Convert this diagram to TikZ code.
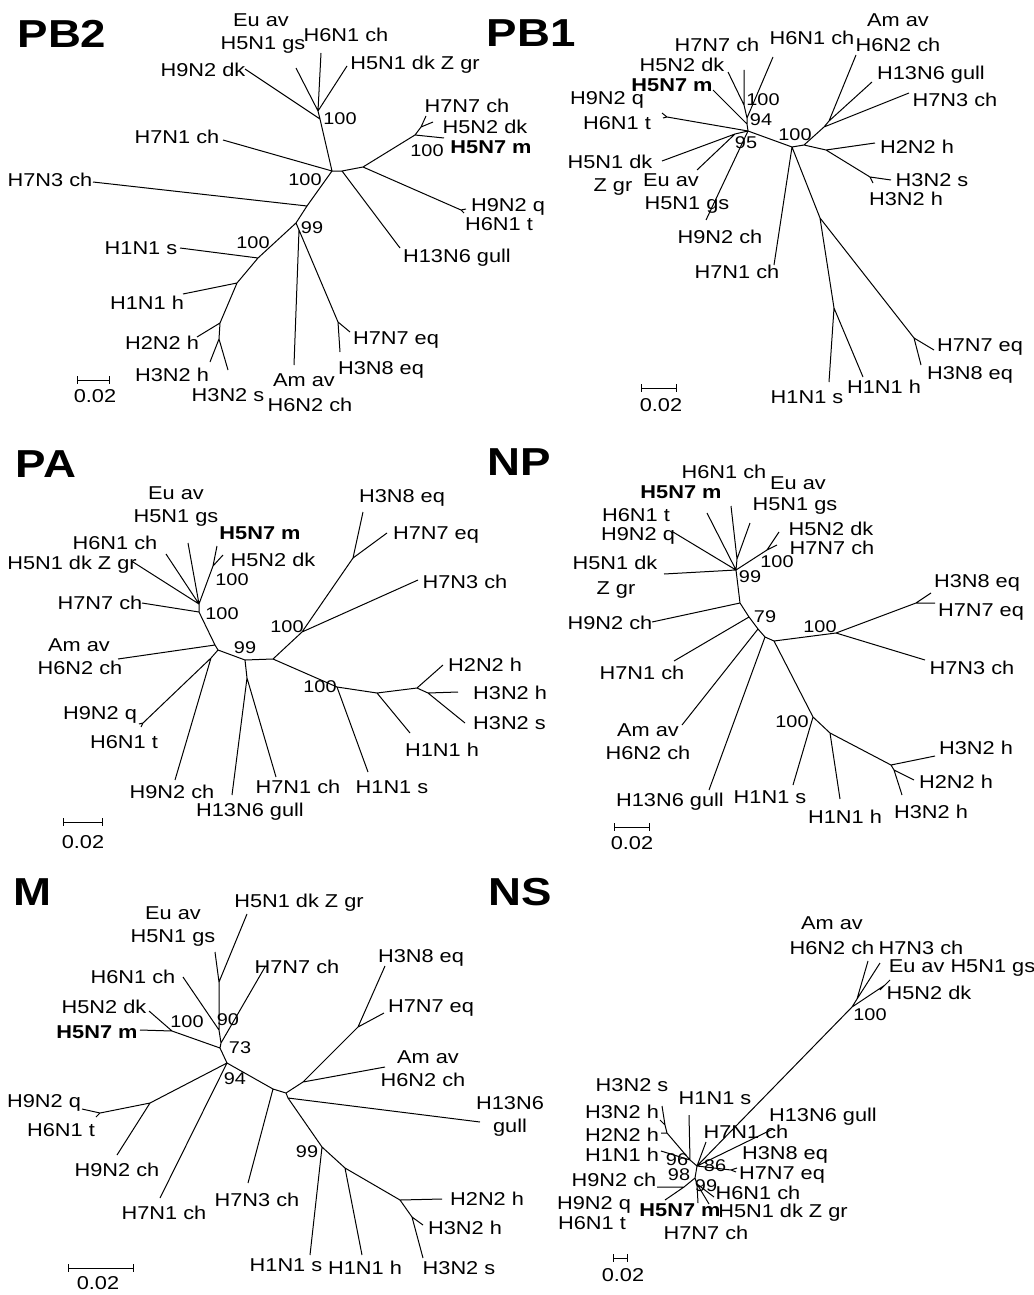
\documentclass[tikz,border=0pt]{standalone}
\usepackage{fontspec}
\setmainfont{Liberation Sans}[FakeStretch=1.17]
\usetikzlibrary{positioning}
\tikzset{
  br/.style={line width=1pt},
  lbl/.style={font=\fontsize{18.6}{22}\selectfont,inner sep=0pt},
  lblb/.style={font=\fontsize{18.6}{22}\selectfont\bfseries,inner sep=0pt},
  bsv/.style={font=\fontsize{17}{18}\selectfont,inner sep=0pt},
  ttl/.style={font=\fontsize{39}{40}\selectfont\bfseries,inner sep=0pt},
  sbar/.style={|-|,line width=1pt}
}
\begin{document}
\begin{tikzpicture}[x=1pt,y=-1pt]
\useasboundingbox (0,0) rectangle (1033,1295);

\path (318,111) coordinate (B2s1) (320,119) coordinate (B2n1) (332,171) coordinate (B2a)
  (342,171) coordinate (B2a2) (363,167) coordinate (B2b) (415,135) coordinate (B2c)
  (421,127) coordinate (B2c1) (461,210) coordinate (B2q) (307,206) coordinate (B2d)
  (296,223) coordinate (B2e) (299,230) coordinate (B2e2) (338,322) coordinate (B2f2)
  (258,258) coordinate (B2f) (237,283) coordinate (B2g) (220,323) coordinate (B2h)
  (219,339) coordinate (B2i)
  (245,69) coordinate (B2t1) (296,68) coordinate (B2t2) (321,53) coordinate (B2t3)
  (347,66) coordinate (B2t4) (223,140) coordinate (B2t5) (426,116) coordinate (B2t6)
  (433,122) coordinate (B2t7) (444,138) coordinate (B2t8) (466,209) coordinate (B2t9)
  (464,213) coordinate (B2t10) (400,248) coordinate (B2t11) (93,182) coordinate (B2t12)
  (294,365) coordinate (B2t13) (350,332) coordinate (B2t14) (340,352) coordinate (B2t15)
  (180,248) coordinate (B2t16) (183,294) coordinate (B2t17) (197,337) coordinate (B2t18)
  (210,362) coordinate (B2t19) (228,370) coordinate (B2t20);
\draw[br] (B2t1) -- (B2n1) -- (B2a) (B2s1) -- (B2n1) (B2t2) -- (B2s1) (B2t3) -- (B2s1) (B2t4) -- (B2s1)
  (B2t5) -- (B2a) -- (B2a2) -- (B2b) -- (B2c) -- (B2c1) -- (B2t6) (B2c1) -- (B2t7) (B2c) -- (B2t8)
  (B2b) -- (B2q) -- (B2t9) (B2q) -- (B2t10) (B2a2) -- (B2t11)
  (B2a) -- (B2d) -- (B2t12) (B2d) -- (B2e) -- (B2e2) -- (B2t13) (B2e2) -- (B2f2) -- (B2t14) (B2f2) -- (B2t15)
  (B2e) -- (B2f) -- (B2t16) (B2f) -- (B2g) -- (B2t17) (B2g) -- (B2h) -- (B2t18) (B2h) -- (B2i) -- (B2t19) (B2i) -- (B2t20);
\node[ttl] (B2ttl) at (62,34) {PB2};
\node[lbl] (B2l1) at (203,70) {H9N2 dk};
\node[lbl] (B2l2) at (261,20) {Eu av};
\node[lbl] (B2l2b) at (263,45) {H5N1 gs};
\node[lbl] (B2l3) at (346,35) {H6N1 ch};
\node[lbl] (B2l4) at (415,65) {H5N1 dk Z gr};
\node[lbl] (B2l5) at (177,137) {H7N1 ch};
\node[lbl] (B2l6) at (467,106) {H7N7 ch};
\node[lbl] (B2l7) at (485,127) {H5N2 dk};
\node[lblb] (B2l8) at (491,147) {H5N7 m};
\node[lbl] (B2l9) at (508,207) {H9N2 q};
\node[lbl] (B2l10) at (499,224) {H6N1 t};
\node[lbl] (B2l11) at (457,258) {H13N6 gull};
\node[lbl] (B2l12) at (50,180) {H7N3 ch};
\node[lbl] (B2l13) at (304,380) {Am av};
\node[lbl] (B2l13b) at (310,405) {H6N2 ch};
\node[lbl] (B2l14) at (396,340) {H7N7 eq};
\node[lbl] (B2l15) at (381,370) {H3N8 eq};
\node[lbl] (B2l16) at (141,248) {H1N1 s};
\node[lbl] (B2l17) at (147,303) {H1N1 h};
\node[lbl] (B2l18) at (162,343) {H2N2 h};
\node[lbl] (B2l19) at (172,375) {H3N2 h};
\node[lbl] (B2l20) at (228,395) {H3N2 s};
\node[bsv] (B2b1) at (340,119) {100};
\node[bsv] (B2b2) at (427,151) {100};
\node[bsv] (B2b3) at (305,180) {100};
\node[bsv] (B2b4) at (312,228) {99};
\node[bsv] (B2b5) at (253,243) {100};
\coordinate (B2sa) at (77,380);
\coordinate (B2sb) at (110,380);
\draw[sbar] (B2sa) -- (B2sb);
\node[lbl] (B2sl) at (95,396) {0.02};

\path (744,105) coordinate (B1a) (747,118) coordinate (B1b) (747,124) coordinate (B1m)
  (748,131) coordinate (B1c) (667,117) coordinate (B1q) (735,134) coordinate (B1d)
  (792,147) coordinate (B1e) (804,145) coordinate (B1e2) (824,127) coordinate (B1f)
  (829,121) coordinate (B1f1) (826,150) coordinate (B1g) (870,177) coordinate (B1h)
  (820,218) coordinate (B1i) (834,308) coordinate (B1j) (914,338) coordinate (B1k)
  (728,72) coordinate (B1t1) (744,70) coordinate (B1t2) (773,57) coordinate (B1t3)
  (713,90) coordinate (B1t4) (662,113) coordinate (B1t5) (663,118) coordinate (B1t6)
  (662,161) coordinate (B1t7) (697,170) coordinate (B1t8) (706,220) coordinate (B1t9)
  (856,55) coordinate (B1t10) (872,82) coordinate (B1t11) (909,93) coordinate (B1t12)
  (875,143) coordinate (B1t13) (891,180) coordinate (B1t14) (873,183) coordinate (B1t15)
  (774,265) coordinate (B1t16) (829,382) coordinate (B1t17) (863,377) coordinate (B1t18)
  (934,350) coordinate (B1t19) (921,365) coordinate (B1t20);
\draw[br] (B1t1) -- (B1a) (B1t2) -- (B1a) -- (B1b) -- (B1m) -- (B1c) (B1t3) -- (B1b) (B1t4) -- (B1m)
  (B1t5) -- (B1q) (B1t6) -- (B1q) -- (B1c) (B1t7) -- (B1d) (B1t8) -- (B1d) -- (B1c) (B1t9) -- (B1c)
  (B1c) -- (B1e) -- (B1e2) -- (B1f) -- (B1f1) -- (B1t10) (B1f1) -- (B1t11) (B1f) -- (B1t12)
  (B1e2) -- (B1g) -- (B1t13) (B1g) -- (B1h) -- (B1t14) (B1h) -- (B1t15)
  (B1e) -- (B1t16) (B1e) -- (B1i) -- (B1j) -- (B1t17) (B1j) -- (B1t18) (B1i) -- (B1k) -- (B1t19) (B1k) -- (B1t20);
\node[ttl] (B1ttl) at (531,33) {PB1};
\node[lbl] (B1l1) at (682,65) {H5N2 dk};
\node[lbl] (B1l2) at (717,45) {H7N7 ch};
\node[lbl] (B1l3) at (812,38) {H6N1 ch};
\node[lblb] (B1l4) at (672,85) {H5N7 m};
\node[lbl] (B1l5) at (607,100) {H9N2 q};
\node[lbl] (B1l6) at (617,123) {H6N1 t};
\node[lbl] (B1l7) at (610,162) {H5N1 dk};
\node[lbl] (B1l7b) at (613,187) {Z gr};
\node[lbl] (B1l8) at (671,180) {Eu av};
\node[lbl] (B1l8b) at (687,205) {H5N1 gs};
\node[lbl] (B1l9) at (720,237) {H9N2 ch};
\node[lbl] (B1l10) at (898,20) {Am av};
\node[lbl] (B1l10b) at (898,45) {H6N2 ch};
\node[lbl] (B1l11) at (931,75) {H13N6 gull};
\node[lbl] (B1l12) at (955,100) {H7N3 ch};
\node[lbl] (B1l13) at (917,147) {H2N2 h};
\node[lbl] (B1l14) at (932,180) {H3N2 s};
\node[lbl] (B1l15) at (906,199) {H3N2 h};
\node[lbl] (B1l16) at (737,272) {H7N1 ch};
\node[lbl] (B1l17) at (807,397) {H1N1 s};
\node[lbl] (B1l18) at (884,387) {H1N1 h};
\node[lbl] (B1l19) at (980,347) {H7N7 eq};
\node[lbl] (B1l20) at (970,375) {H3N8 eq};
\node[bsv] (B1b1) at (763,100) {100};
\node[bsv] (B1b2) at (761,120) {94};
\node[bsv] (B1b3) at (746,143) {95};
\node[bsv] (B1b4) at (795,135) {100};
\coordinate (B1sa) at (641,388);
\coordinate (B1sb) at (677,388);
\draw[sbar] (B1sa) -- (B1sb);
\node[lbl] (B1sl) at (661,405) {0.02};

\path (199,604) coordinate (PAp1) (213,566) coordinate (PAp2) (199,612) coordinate (PAp3)
  (215,645) coordinate (PAp4a) (218,650) coordinate (PAp4) (211,658) coordinate (PAq1)
  (143,723) coordinate (PAqf) (245,660) coordinate (PAp5) (273,659) coordinate (PAp6)
  (247,678) coordinate (PAp7) (302,632) coordinate (PAp8) (353,558) coordinate (PAp9)
  (337,687) coordinate (PAp10) (377,693) coordinate (PAp11) (417,688) coordinate (PAp12)
  (428,693) coordinate (PAp13)
  (133,562) coordinate (PAt1) (166,554) coordinate (PAt2) (188,543) coordinate (PAt3)
  (217,546) coordinate (PAt4) (223,555) coordinate (PAt5) (142,603) coordinate (PAt6)
  (118,659) coordinate (PAt7) (139,724) coordinate (PAt8) (141,727) coordinate (PAt9)
  (175,780) coordinate (PAt10) (232,795) coordinate (PAt11) (276,777) coordinate (PAt12)
  (418,580) coordinate (PAt13) (363,512) coordinate (PAt14) (387,533) coordinate (PAt15)
  (368,772) coordinate (PAt16) (410,733) coordinate (PAt17) (443,665) coordinate (PAt18)
  (458,692) coordinate (PAt19) (465,723) coordinate (PAt20);
\draw[br] (PAt1) -- (PAp1) (PAt2) -- (PAp1) (PAt3) -- (PAp1) -- (PAp2) -- (PAt4) (PAp2) -- (PAt5)
  (PAp1) -- (PAp3) -- (PAt6) (PAp3) -- (PAp4a) -- (PAp4) (PAt7) -- (PAp4a)
  (PAp4) -- (PAq1) -- (PAqf) -- (PAt8) (PAqf) -- (PAt9) (PAq1) -- (PAt10)
  (PAp4) -- (PAp5) -- (PAp6) (PAp5) -- (PAp7) -- (PAt11) (PAp7) -- (PAt12)
  (PAp6) -- (PAp8) -- (PAt13) (PAp8) -- (PAp9) -- (PAt14) (PAp9) -- (PAt15)
  (PAp6) -- (PAp10) -- (PAt16) (PAp10) -- (PAp11) -- (PAt17) (PAp11) -- (PAp12) -- (PAt18)
  (PAp12) -- (PAp13) -- (PAt19) (PAp13) -- (PAt20);
\node[ttl] (PAttl) at (46,464) {PA};
\node[lbl] (PAl1) at (72,565) {H5N1 dk Z gr};
\node[lbl] (PAl2) at (115,543) {H6N1 ch};
\node[lbl] (PAl3) at (176,493) {Eu av};
\node[lbl] (PAl3b) at (176,518) {H5N1 gs};
\node[lblb] (PAl4) at (260,533) {H5N7 m};
\node[lbl] (PAl5) at (273,560) {H5N2 dk};
\node[lbl] (PAl6) at (100,603) {H7N7 ch};
\node[lbl] (PAl7) at (79,645) {Am av};
\node[lbl] (PAl7b) at (80,668) {H6N2 ch};
\node[lbl] (PAl8) at (100,715) {H9N2 q};
\node[lbl] (PAl9) at (124,742) {H6N1 t};
\node[lbl] (PAl10) at (172,792) {H9N2 ch};
\node[lbl] (PAl11) at (250,812) {H13N6 gull};
\node[lbl] (PAl12) at (298,787) {H7N1 ch};
\node[lbl] (PAl13) at (465,582) {H7N3 ch};
\node[lbl] (PAl14) at (402,498) {H3N8 eq};
\node[lbl] (PAl15) at (436,535) {H7N7 eq};
\node[lbl] (PAl16) at (392,787) {H1N1 s};
\node[lbl] (PAl17) at (442,750) {H1N1 h};
\node[lbl,anchor=west] (PAl18) at (448,665) {H2N2 h};
\node[lbl,anchor=west] (PAl19) at (473,693) {H3N2 h};
\node[lbl,anchor=west] (PAl20) at (473,723) {H3N2 s};
\node[bsv] (PAb1) at (232,580) {100};
\node[bsv] (PAb2) at (222,614) {100};
\node[bsv] (PAb3) at (245,648) {99};
\node[bsv] (PAb4) at (287,627) {100};
\node[bsv] (PAb5) at (320,687) {100};
\coordinate (PAsa) at (63,822);
\coordinate (PAsb) at (103,822);
\draw[sbar] (PAsa) -- (PAsb);
\node[lbl] (PAsl) at (83,842) {0.02};

\path (736,570) coordinate (NPt) (737,559) coordinate (NPs) (767,550) coordinate (NPu1)
  (740,603) coordinate (NPv1) (749,617) coordinate (NPv2) (758,629) coordinate (NPv3)
  (765,637) coordinate (NPv4) (774,641) coordinate (NPu) (836,633) coordinate (NPv)
  (916,603) coordinate (NPw) (813,717) coordinate (NPx1) (830,733) coordinate (NPx2)
  (891,765) coordinate (NPx3) (894,770) coordinate (NPx4)
  (673,532) coordinate (NPt1) (707,513) coordinate (NPt2) (731,506) coordinate (NPt3)
  (750,523) coordinate (NPt4) (779,532) coordinate (NPt5) (777,545) coordinate (NPt6)
  (664,574) coordinate (NPt7) (652,622) coordinate (NPt8) (674,661) coordinate (NPt9)
  (682,725) coordinate (NPt10) (709,790) coordinate (NPt11) (931,593) coordinate (NPt12)
  (935,603) coordinate (NPt13) (925,660) coordinate (NPt14) (793,785) coordinate (NPt15)
  (840,799) coordinate (NPt16) (935,756) coordinate (NPt17) (914,780) coordinate (NPt18)
  (902,795) coordinate (NPt19);
\draw[br] (NPt1) -- (NPt) (NPt2) -- (NPt) (NPt3) -- (NPs) (NPt4) -- (NPs) -- (NPt)
  (NPt5) -- (NPu1) (NPt6) -- (NPu1) -- (NPt) (NPt7) -- (NPt)
  (NPt) -- (NPv1) -- (NPv2) -- (NPv3) -- (NPv4) -- (NPu)
  (NPt8) -- (NPv1) (NPt9) -- (NPv2) (NPt10) -- (NPv3) (NPt11) -- (NPv4)
  (NPu) -- (NPv) -- (NPw) -- (NPt12) (NPw) -- (NPt13) (NPv) -- (NPt14)
  (NPu) -- (NPx1) -- (NPt15) (NPx1) -- (NPx2) -- (NPt16) (NPx2) -- (NPx3) -- (NPt17)
  (NPx3) -- (NPx4) -- (NPt18) (NPx4) -- (NPt19);
\node[ttl] (NPttl) at (519,462) {NP};
\node[lbl] (NPl1) at (724,472) {H6N1 ch};
\node[lbl] (NPl2) at (798,483) {Eu av};
\node[lbl] (NPl2b) at (795,506) {H5N1 gs};
\node[lblb] (NPl3) at (681,492) {H5N7 m};
\node[lbl] (NPl4) at (636,515) {H6N1 t};
\node[lbl] (NPl5) at (638,536) {H9N2 q};
\node[lbl] (NPl6) at (831,529) {H5N2 dk};
\node[lbl] (NPl7) at (832,548) {H7N7 ch};
\node[lbl] (NPl8) at (615,563) {H5N1 dk};
\node[lbl] (NPl8b) at (616,590) {Z gr};
\node[lbl] (NPl9) at (610,623) {H9N2 ch};
\node[lbl] (NPl10) at (642,673) {H7N1 ch};
\node[lbl] (NPl11) at (648,730) {Am av};
\node[lbl] (NPl11b) at (648,753) {H6N2 ch};
\node[lbl] (NPl12) at (670,802) {H13N6 gull};
\node[lbl] (NPl13) at (977,583) {H3N8 eq};
\node[lbl] (NPl14) at (981,612) {H7N7 eq};
\node[lbl] (NPl15) at (972,668) {H7N3 ch};
\node[lbl] (NPl16) at (770,797) {H1N1 s};
\node[lbl] (NPl17) at (845,817) {H1N1 h};
\node[lbl] (NPl18) at (976,748) {H3N2 h};
\node[lbl] (NPl19) at (956,782) {H2N2 h};
\node[lbl] (NPl20) at (931,812) {H3N2 h};
\node[bsv] (NPb1) at (750,577) {99};
\node[bsv] (NPb2) at (777,562) {100};
\node[bsv] (NPb3) at (765,617) {79};
\node[bsv] (NPb4) at (820,627) {100};
\node[bsv] (NPb5) at (792,722) {100};
\coordinate (NPsa) at (614,827);
\coordinate (NPsb) at (650,827);
\draw[sbar] (NPsa) -- (NPsb);
\node[lbl] (NPsl) at (632,843) {0.02};

\path (219,982) coordinate (Mm3) (219,1030) coordinate (Mm2) (221,1043) coordinate (Mm1b)
  (220,1048) coordinate (Mm1) (172,1031) coordinate (Mk) (227,1063) coordinate (Mm4)
  (150,1103) coordinate (Mm5) (100,1113) coordinate (Mm6) (273,1089) coordinate (Mm7)
  (286,1093) coordinate (Mm8) (303,1082) coordinate (Mm9) (358,1027) coordinate (Mm10)
  (288,1098) coordinate (Mm8b) (322,1147) coordinate (Mm11) (345,1168) coordinate (Mm12)
  (400,1200) coordinate (Mm13) (412,1217) coordinate (Mm14)
  (215,952) coordinate (Mt1) (247,914) coordinate (Mt2) (183,977) coordinate (Mt3)
  (265,967) coordinate (Mt4) (149,1011) coordinate (Mt5) (140,1030) coordinate (Mt6)
  (117,1155) coordinate (Mt7) (82,1109) coordinate (Mt8) (96,1117) coordinate (Mt9)
  (160,1198) coordinate (Mt10) (248,1183) coordinate (Mt11) (385,1067) coordinate (Mt12)
  (385,966) coordinate (Mt13) (384,1013) coordinate (Mt14) (480,1122) coordinate (Mt15)
  (310,1255) coordinate (Mt16) (362,1255) coordinate (Mt17) (442,1199) coordinate (Mt18)
  (423,1225) coordinate (Mt19) (423,1258) coordinate (Mt20);
\draw[br] (Mt1) -- (Mm3) (Mt2) -- (Mm3) -- (Mm2) -- (Mm1b) -- (Mm1) (Mt3) -- (Mm2) (Mt4) -- (Mm1b)
  (Mt5) -- (Mk) (Mt6) -- (Mk) -- (Mm1) -- (Mm4)
  (Mm4) -- (Mm5) -- (Mt7) (Mm5) -- (Mm6) -- (Mt8) (Mm6) -- (Mt9) (Mm4) -- (Mt10)
  (Mm4) -- (Mm7) -- (Mt11) (Mm7) -- (Mm8) -- (Mm9) -- (Mt12) (Mm9) -- (Mm10) -- (Mt13) (Mm10) -- (Mt14)
  (Mm8) -- (Mm8b) -- (Mt15) (Mm8b) -- (Mm11) -- (Mt16) (Mm11) -- (Mm12) -- (Mt17)
  (Mm12) -- (Mm13) -- (Mt18) (Mm13) -- (Mm14) -- (Mt19) (Mm14) -- (Mt20);
\node[ttl] (Mttl) at (33,892) {M};
\node[lbl] (Ml1) at (299,903) {H5N1 dk Z gr};
\node[lbl] (Ml2) at (173,913) {Eu av};
\node[lbl] (Ml2b) at (173,938) {H5N1 gs};
\node[lbl] (Ml3) at (133,977) {H6N1 ch};
\node[lbl] (Ml4) at (297,967) {H7N7 ch};
\node[lbl] (Ml5) at (104,1007) {H5N2 dk};
\node[lblb] (Ml6) at (97,1032) {H5N7 m};
\node[lbl] (Ml7) at (44,1103) {H9N2 q};
\node[lbl] (Ml8) at (61,1130) {H6N1 t};
\node[lbl] (Ml9) at (117,1170) {H9N2 ch};
\node[lbl] (Ml10) at (164,1213) {H7N1 ch};
\node[lbl] (Ml11) at (257,1200) {H7N3 ch};
\node[lbl] (Ml12) at (428,1057) {Am av};
\node[lbl] (Ml12b) at (423,1080) {H6N2 ch};
\node[lbl] (Ml13) at (421,958) {H3N8 eq};
\node[lbl] (Ml14) at (431,1008) {H7N7 eq};
\node[lbl] (Ml15) at (510,1103) {H13N6};
\node[lbl] (Ml15b) at (510,1128) {gull};
\node[lbl] (Ml16) at (286,1265) {H1N1 s};
\node[lbl] (Ml17) at (365,1268) {H1N1 h};
\node[lbl,anchor=west] (Ml18) at (450,1199) {H2N2 h};
\node[lbl] (Ml19) at (465,1228) {H3N2 h};
\node[lbl] (Ml20) at (459,1268) {H3N2 s};
\node[bsv] (Mb1) at (187,1022) {100};
\node[bsv] (Mb2) at (228,1020) {90};
\node[bsv] (Mb3) at (240,1048) {73};
\node[bsv] (Mb4) at (235,1079) {94};
\node[bsv] (Mb5) at (307,1152) {99};
\coordinate (Msa) at (68,1268);
\coordinate (Msb) at (134,1268);
\draw[sbar] (Msa) -- (Msb);
\node[lbl] (Msl) at (98,1283) {0.02};

\path (852,1007) coordinate (NSn1) (857,999) coordinate (NSn2) (885,985) coordinate (NSn3)
  (697,1166) coordinate (NSc0) (690,1160) coordinate (NSsc) (667,1133) coordinate (NSsb)
  (665,1125) coordinate (NSsa) (695,1178) coordinate (NSc2) (684,1187) coordinate (NSh1)
  (731,1170) coordinate (NSe) (697,1184) coordinate (NSc4)
  (868,961) coordinate (NSt1) (880,963) coordinate (NSt2) (890,980) coordinate (NSt3)
  (880,990) coordinate (NSt4) (773,1129) coordinate (NSt5) (706,1142) coordinate (NSt6)
  (689,1115) coordinate (NSt7) (661,1133) coordinate (NSt8) (662,1106) coordinate (NSt9)
  (660,1120) coordinate (NSt10) (661,1151) coordinate (NSt11) (657,1187) coordinate (NSt12)
  (665,1200) coordinate (NSt13) (737,1168) coordinate (NSt14) (736,1172) coordinate (NSt15)
  (714,1197) coordinate (NSt16) (709,1204) coordinate (NSt17) (698,1203) coordinate (NSt18);
\draw[br] (NSc0) -- (NSn1) -- (NSn2) -- (NSt1) (NSn2) -- (NSt2) (NSn1) -- (NSn3) -- (NSt3) (NSn3) -- (NSt4)
  (NSc0) -- (NSt5) (NSc0) -- (NSt6) (NSt7) -- (NSsc) -- (NSc0)
  (NSsc) -- (NSsb) -- (NSt8) (NSsb) -- (NSsa) -- (NSt9) (NSsa) -- (NSt10) (NSt11) -- (NSsc)
  (NSc0) -- (NSc2) -- (NSh1) -- (NSt12) (NSh1) -- (NSt13)
  (NSc0) -- (NSe) -- (NSt14) (NSe) -- (NSt15)
  (NSc2) -- (NSc4) -- (NSt16) (NSc4) -- (NSt17) (NSc4) -- (NSt18);
\node[ttl] (NSttl) at (520,892) {NS};
\node[lbl] (NSl1) at (832,923) {Am av};
\node[lbl] (NSl1b) at (832,948) {H6N2 ch};
\node[lbl] (NSl2) at (921,948) {H7N3 ch};
\node[lbl] (NSl3) at (962,968) {Eu av H5N1 gs};
\node[lbl] (NSl4) at (929,993) {H5N2 dk};
\node[lbl] (NSl5) at (632,1085) {H3N2 s};
\node[lbl] (NSl6) at (715,1098) {H1N1 s};
\node[lbl] (NSl7) at (622,1112) {H3N2 h};
\node[lbl] (NSl8) at (823,1117) {H13N6 gull};
\node[lbl] (NSl9) at (622,1135) {H2N2 h};
\node[lbl] (NSl10) at (746,1132) {H7N1 ch};
\node[lbl] (NSl11) at (622,1155) {H1N1 h};
\node[lbl] (NSl12) at (785,1155) {H3N8 eq};
\node[lbl] (NSl13) at (614,1180) {H9N2 ch};
\node[lbl] (NSl14) at (782,1175) {H7N7 eq};
\node[lbl] (NSl15) at (758,1193) {H6N1 ch};
\node[lbl] (NSl16) at (594,1205) {H9N2 q};
\node[lblb] (NSl17) at (680,1210) {H5N7 m};
\node[lbl] (NSl18) at (783,1213) {H5N1 dk Z gr};
\node[lbl] (NSl19) at (592,1223) {H6N1 t};
\node[lbl] (NSl20) at (706,1233) {H7N7 ch};
\node[bsv] (NSb1) at (870,1015) {100};
\node[bsv] (NSb2) at (677,1160) {96};
\node[bsv] (NSb3) at (715,1166) {86};
\node[bsv] (NSb4) at (679,1175) {98};
\node[bsv] (NSb5) at (706,1186) {99};
\coordinate (NSsa1) at (613,1258);
\coordinate (NSsb1) at (628,1258);
\draw[sbar] (NSsa1) -- (NSsb1);
\node[lbl] (NSsl) at (623,1275) {0.02};
\end{tikzpicture}
\end{document}
